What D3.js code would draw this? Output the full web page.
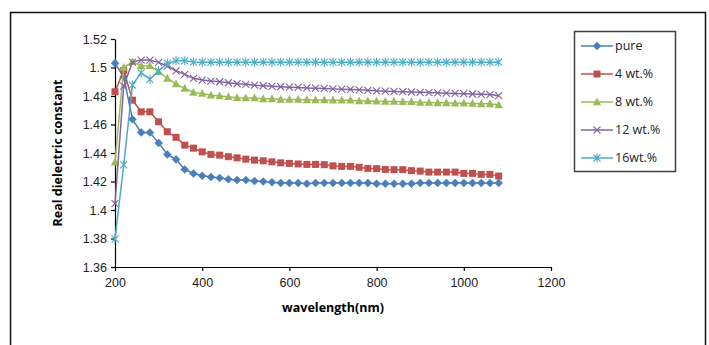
<!DOCTYPE html>
<html>
<head>
<meta charset="utf-8">
<script src="https://cdn.jsdelivr.net/npm/d3@7"></script>
<style>
  body { margin: 0; background: #fff; }
  svg { display: block; font-family: "Open Sans", "Liberation Sans", sans-serif; }
</style>
</head>
<body>
<div id="chart"></div>
<script>
// wavelengths, 200..1080 nm every 20 nm
const wavelength = [200,220,240,260,280,300,320,340,360,380,400,420,440,460,480,500,520,540,560,580,
  600,620,640,660,680,700,720,740,760,780,800,820,840,860,880,900,920,940,960,980,1000,1020,1040,1060,1080];

const pure = [1.503,1.4935,1.4636,1.4544,1.4544,1.4471,1.439,1.4355,1.4284,1.4256,1.424,1.4232,1.4225,1.4216,1.421,1.421,1.4203,1.42,1.4195,1.419,
  1.419,1.419,1.4185,1.419,1.419,1.419,1.419,1.419,1.419,1.419,1.4185,1.4185,1.4185,1.4185,1.4185,1.419,1.419,1.419,1.419,1.419,1.419,1.419,1.419,1.419,1.419];
const wt4 = [1.483,1.498,1.4771,1.4689,1.4689,1.4619,1.4549,1.451,1.4455,1.4434,1.4408,1.439,1.4385,1.4374,1.4366,1.4357,1.435,1.4345,1.4338,1.4331,
  1.4327,1.4323,1.432,1.432,1.4318,1.431,1.4306,1.4306,1.43,1.4292,1.429,1.4285,1.4283,1.4283,1.4276,1.4273,1.4266,1.4266,1.4266,1.4266,1.4257,1.4257,1.425,1.425,1.4238];
const wt8 = [1.4336,1.5,1.504,1.5012,1.5012,1.497,1.4924,1.4884,1.4853,1.4825,1.4818,1.4806,1.48,1.4795,1.4788,1.4786,1.4786,1.478,1.478,1.4775,
  1.4775,1.4775,1.4773,1.4772,1.4772,1.477,1.477,1.477,1.4765,1.4765,1.4763,1.4762,1.4762,1.476,1.476,1.4755,1.4755,1.4752,1.4752,1.475,1.475,1.4748,1.4745,1.4745,1.4737];
const wt12 = [1.4045,1.487,1.5038,1.5052,1.5052,1.5036,1.501,1.4977,1.4952,1.4924,1.4912,1.4905,1.49,1.4893,1.4886,1.4882,1.4876,1.4872,1.4868,1.4865,
  1.4862,1.486,1.4857,1.4855,1.4853,1.485,1.4848,1.4846,1.4843,1.484,1.4836,1.4834,1.4832,1.483,1.4828,1.4826,1.4824,1.4822,1.482,1.4818,1.4816,1.4814,1.4812,1.481,1.4802];
const wt16 = [1.3797,1.4316,1.4877,1.4963,1.4917,1.4977,1.5029,1.5047,1.5047,1.5038,1.5037,1.5037,1.5037,1.5037,1.5037,1.5037,1.5037,1.5037,1.5037,1.5037,
  1.5037,1.5037,1.5037,1.5037,1.5037,1.5037,1.5037,1.5037,1.5037,1.5037,1.5037,1.5037,1.5037,1.5037,1.5037,1.5037,1.5037,1.5037,1.5037,1.5037,1.5037,1.5037,1.5037,1.5037,1.5037];

const seriesNames = ["pure", "4 wt.%", "8 wt.%", "12 wt.%", "16wt.%"];
const seriesColors = ["#4a7ebb", "#c0504d", "#9bbb59", "#8064a2", "#4bacc6"];
const seriesMarkers = ["diamond", "square", "triangle", "x", "star"];
const seriesValues = [pure, wt4, wt8, wt12, wt16];

const xTicks = [200, 400, 600, 800, 1000, 1200];
const yTicks = [1.36, 1.38, 1.4, 1.42, 1.44, 1.46, 1.48, 1.5, 1.52];

const width = 709, height = 345;

const svg = d3.select("#chart").append("svg")
    .attr("width", width)
    .attr("height", height);

// outer chart frame
svg.append("rect")
    .attr("x", 10.5).attr("y", 12.5)
    .attr("width", 695).attr("height", 340)
    .attr("fill", "none")
    .attr("stroke", "#111")
    .attr("stroke-width", 1.5);

const x = d3.scaleLinear().domain([200, 1200]).range([115, 551]);
const y = d3.scaleLinear().domain([1.36, 1.52]).range([267, 39]);

// axes
const xAxis = svg.append("g")
    .attr("transform", `translate(0, ${y(1.36)})`)
    .call(d3.axisBottom(x).tickValues(xTicks).tickSize(4).tickSizeOuter(0).tickFormat(d3.format("d")));
const yAxis = svg.append("g")
    .attr("transform", `translate(${x(200)}, 0)`)
    .call(d3.axisLeft(y).tickValues(yTicks).tickSize(4).tickSizeOuter(0).tickFormat(d => String(+d.toFixed(2))));

[xAxis, yAxis].forEach(a => {
    a.select(".domain").attr("stroke", "#000").attr("stroke-width", 1.2);
    a.selectAll(".tick line").attr("stroke", "#000").attr("stroke-width", 1.2);
    a.selectAll(".tick text").attr("fill", "#222").style("font-size", "12.5px");
});
xAxis.selectAll(".tick text").attr("dy", "1.05em");
yAxis.selectAll(".tick text").attr("x", -8);

// axis titles
svg.append("text")
    .attr("transform", `translate(62, ${(y(1.36) + y(1.52)) / 2}) rotate(-90)`)
    .attr("text-anchor", "middle")
    .style("font-size", "12.5px")
    .style("font-weight", "bold")
    .text("Real dielectric constant");

svg.append("text")
    .attr("x", 333).attr("y", 312)
    .attr("text-anchor", "middle")
    .style("font-size", "12.5px")
    .style("font-weight", "bold")
    .text("wavelength(nm)");

// marker shapes
function drawMarker(g, type, color, cx, cy) {
    if (type === "diamond") {
        g.append("path").attr("d", `M${cx},${cy - 4}L${cx + 4},${cy}L${cx},${cy + 4}L${cx - 4},${cy}Z`)
            .attr("fill", color).attr("stroke", color).attr("stroke-width", 0.5);
    } else if (type === "square") {
        g.append("rect").attr("x", cx - 3.5).attr("y", cy - 3.5).attr("width", 7).attr("height", 7)
            .attr("fill", color);
    } else if (type === "triangle") {
        g.append("path").attr("d", `M${cx},${cy - 4.5}L${cx + 4.2},${cy + 3.3}L${cx - 4.2},${cy + 3.3}Z`)
            .attr("fill", color);
    } else if (type === "x") {
        g.append("path").attr("d", `M${cx - 3.5},${cy - 3.5}L${cx + 3.5},${cy + 3.5}M${cx - 3.5},${cy + 3.5}L${cx + 3.5},${cy - 3.5}`)
            .attr("stroke", color).attr("stroke-width", 1.1).attr("fill", "none");
    } else {
        g.append("path").attr("d", `M${cx - 3.5},${cy - 3.5}L${cx + 3.5},${cy + 3.5}M${cx - 3.5},${cy + 3.5}L${cx + 3.5},${cy - 3.5}M${cx},${cy - 4.5}L${cx},${cy + 4.5}`)
            .attr("stroke", color).attr("stroke-width", 1.1).attr("fill", "none");
    }
}

const line = d3.line()
    .x((d, i) => x(wavelength[i]))
    .y(d => y(d));

seriesValues.forEach((vals, s) => {
    const g = svg.append("g");
    g.append("path")
        .attr("d", line(vals))
        .attr("fill", "none")
        .attr("stroke", seriesColors[s])
        .attr("stroke-width", 1.5);
    vals.forEach((v, i) => drawMarker(g, seriesMarkers[s], seriesColors[s], x(wavelength[i]), y(v)));
});

// legend
const legend = svg.append("g");
legend.append("rect")
    .attr("x", 574.5).attr("y", 31.5)
    .attr("width", 101).attr("height", 140)
    .attr("fill", "#fff")
    .attr("stroke", "#404040")
    .attr("stroke-width", 1.5);

seriesNames.forEach((name, s) => {
    const ly = 46 + s * 28;
    legend.append("line")
        .attr("x1", 581).attr("x2", 613)
        .attr("y1", ly).attr("y2", ly)
        .attr("stroke", seriesColors[s])
        .attr("stroke-width", 1.5);
    drawMarker(legend, seriesMarkers[s], seriesColors[s], 597, ly);
    legend.append("text")
        .attr("x", 615).attr("y", ly)
        .attr("dy", "0.35em")
        .style("font-size", "12.5px")
        .attr("fill", "#222")
        .text(name);
});
</script>
</body>
</html>
